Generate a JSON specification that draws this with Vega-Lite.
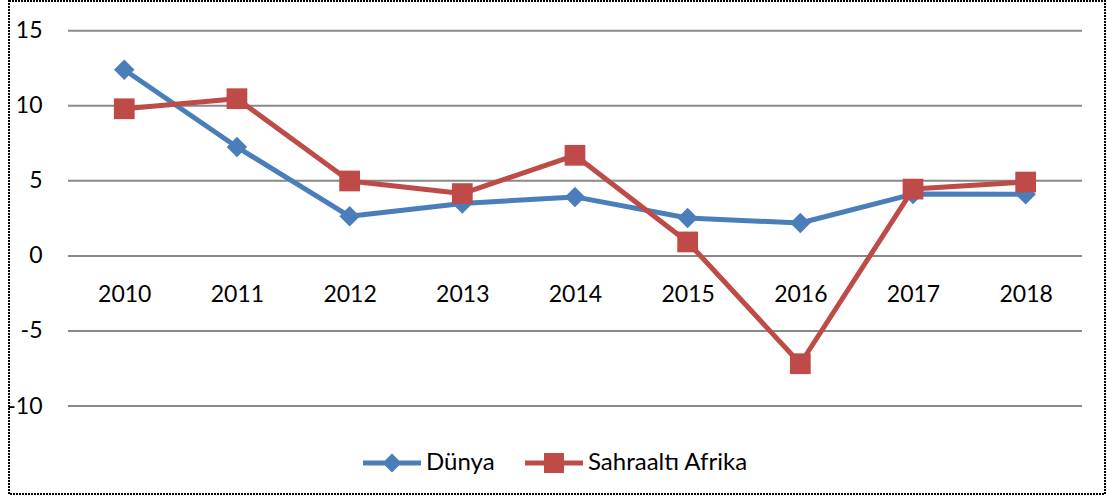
{
  "$schema": "https://vega.github.io/schema/vega-lite/v6.json",
  "width": 1096,
  "height": 493,
  "autosize": {"type": "none"},
  "padding": {"left": 9, "top": 1, "right": 2, "bottom": 3},
  "background": "white",
  "config": {
    "font": "Lato",
    "view": {"stroke": "#000000", "strokeWidth": 2, "strokeDash": [2, 1]},
    "axis": {"labelFont": "Lato", "labelFontSize": 23, "labelColor": "#000000"}
  },
  "datasets": {
    "growth": [
      {"year": 2010, "series": "Dünya", "value": 12.4},
      {"year": 2011, "series": "Dünya", "value": 7.25},
      {"year": 2012, "series": "Dünya", "value": 2.64},
      {"year": 2013, "series": "Dünya", "value": 3.49},
      {"year": 2014, "series": "Dünya", "value": 3.93},
      {"year": 2015, "series": "Dünya", "value": 2.53},
      {"year": 2016, "series": "Dünya", "value": 2.19},
      {"year": 2017, "series": "Dünya", "value": 4.12},
      {"year": 2018, "series": "Dünya", "value": 4.1},
      {"year": 2010, "series": "Sahraaltı Afrika", "value": 9.8},
      {"year": 2011, "series": "Sahraaltı Afrika", "value": 10.47},
      {"year": 2012, "series": "Sahraaltı Afrika", "value": 4.99},
      {"year": 2013, "series": "Sahraaltı Afrika", "value": 4.15},
      {"year": 2014, "series": "Sahraaltı Afrika", "value": 6.7},
      {"year": 2015, "series": "Sahraaltı Afrika", "value": 0.93},
      {"year": 2016, "series": "Sahraaltı Afrika", "value": -7.18},
      {"year": 2017, "series": "Sahraaltı Afrika", "value": 4.45},
      {"year": 2018, "series": "Sahraaltı Afrika", "value": 4.92}
    ],
    "grid": [{"v": -10}, {"v": -5}, {"v": 0}, {"v": 5}, {"v": 10}, {"v": 15}]
  },
  "layer": [
    {
      "data": {"name": "grid"},
      "mark": {"type": "rule", "color": "#898989", "strokeWidth": 2},
      "encoding": {
        "y": {
          "field": "v", "type": "quantitative",
          "scale": {"domain": [-15.855, 16.976], "nice": false, "zero": false},
          "axis": {"title": null, "values": [-10, -5, 0, 5, 10, 15], "labelExpr": "'' + datum.value", "grid": false, "domain": false, "ticks": false, "offset": -41, "labelPadding": 8}
        },
        "x": {
          "datum": 2009.5, "type": "quantitative",
          "scale": {"domain": [2008.977, 2018.704], "nice": false, "zero": false},
          "axis": {"title": null, "values": [2010, 2011, 2012, 2013, 2014, 2015, 2016, 2017, 2018], "format": "d", "grid": false, "domain": false, "ticks": false, "offset": -238, "labelPadding": 38, "labelBaseline": "middle"}
        },
        "x2": {"datum": 2018.5}
      }
    },
    {
      "data": {"name": "growth"},
      "mark": {"type": "line", "strokeWidth": 5, "strokeJoin": "round", "strokeCap": "round"},
      "encoding": {
        "x": {
          "field": "year", "type": "quantitative",
          "scale": {"domain": [2008.977, 2018.704], "nice": false, "zero": false},
          "axis": {"title": null, "values": [2010, 2011, 2012, 2013, 2014, 2015, 2016, 2017, 2018], "format": "d", "grid": false, "domain": false, "ticks": false, "offset": -238, "labelPadding": 38, "labelBaseline": "middle"}
        },
        "y": {
          "field": "value", "type": "quantitative",
          "scale": {"domain": [-15.855, 16.976], "nice": false, "zero": false},
          "axis": {"title": null, "values": [-10, -5, 0, 5, 10, 15], "labelExpr": "'' + datum.value", "grid": false, "domain": false, "ticks": false, "offset": -41, "labelPadding": 8}
        },
        "color": {
          "field": "series", "type": "nominal",
          "scale": {"domain": ["Dünya", "Sahraaltı Afrika"], "range": ["#4A7EBB", "#BE4B48"]},
          "legend": {
            "orient": "none", "legendX": 354, "legendY": 433, "direction": "horizontal", "title": null,
            "symbolSize": 3364, "labelFontSize": 24, "labelFont": "Lato", "labelColor": "#000000",
            "labelOffset": 5, "columnPadding": 30, "symbolStrokeWidth": 0, "labelLimit": 300,
            "encode": {"symbols": {"update": {
              "shape": {"signal": "datum.value === 'Dünya' ? 'M-1,-0.086L1,-0.086L1,0.086L-1,0.086Z M0,-0.33L0.33,0L0,0.33L-0.33,0Z' : 'M-1,-0.086L1,-0.086L1,0.086L-1,0.086Z M-0.345,-0.345L0.345,-0.345L0.345,0.345L-0.345,0.345Z'"},
              "fill": {"signal": "scale('color', datum.value)"},
              "size": {"value": 3364},
              "strokeWidth": {"value": 0},
              "opacity": {"value": 1}
            }}}
          }
        }
      }
    },
    {
      "data": {"name": "growth"},
      "transform": [{"filter": "datum.series === 'Dünya'"}],
      "mark": {"type": "point", "filled": true, "opacity": 1, "shape": "diamond", "size": 420},
      "encoding": {
        "x": {
          "field": "year", "type": "quantitative",
          "scale": {"domain": [2008.977, 2018.704], "nice": false, "zero": false},
          "axis": {"title": null, "values": [2010, 2011, 2012, 2013, 2014, 2015, 2016, 2017, 2018], "format": "d", "grid": false, "domain": false, "ticks": false, "offset": -238, "labelPadding": 38, "labelBaseline": "middle"}
        },
        "y": {
          "field": "value", "type": "quantitative",
          "scale": {"domain": [-15.855, 16.976], "nice": false, "zero": false},
          "axis": {"title": null, "values": [-10, -5, 0, 5, 10, 15], "labelExpr": "'' + datum.value", "grid": false, "domain": false, "ticks": false, "offset": -41, "labelPadding": 8}
        },
        "color": {
          "field": "series", "type": "nominal",
          "scale": {"domain": ["Dünya", "Sahraaltı Afrika"], "range": ["#4A7EBB", "#BE4B48"]},
          "legend": null
        }
      }
    },
    {
      "data": {"name": "growth"},
      "transform": [{"filter": "datum.series === 'Sahraaltı Afrika'"}],
      "mark": {"type": "point", "filled": true, "opacity": 1, "shape": "square", "size": 430},
      "encoding": {
        "x": {
          "field": "year", "type": "quantitative",
          "scale": {"domain": [2008.977, 2018.704], "nice": false, "zero": false},
          "axis": {"title": null, "values": [2010, 2011, 2012, 2013, 2014, 2015, 2016, 2017, 2018], "format": "d", "grid": false, "domain": false, "ticks": false, "offset": -238, "labelPadding": 38, "labelBaseline": "middle"}
        },
        "y": {
          "field": "value", "type": "quantitative",
          "scale": {"domain": [-15.855, 16.976], "nice": false, "zero": false},
          "axis": {"title": null, "values": [-10, -5, 0, 5, 10, 15], "labelExpr": "'' + datum.value", "grid": false, "domain": false, "ticks": false, "offset": -41, "labelPadding": 8}
        },
        "color": {
          "field": "series", "type": "nominal",
          "scale": {"domain": ["Dünya", "Sahraaltı Afrika"], "range": ["#4A7EBB", "#BE4B48"]},
          "legend": null
        }
      }
    }
  ]
}
